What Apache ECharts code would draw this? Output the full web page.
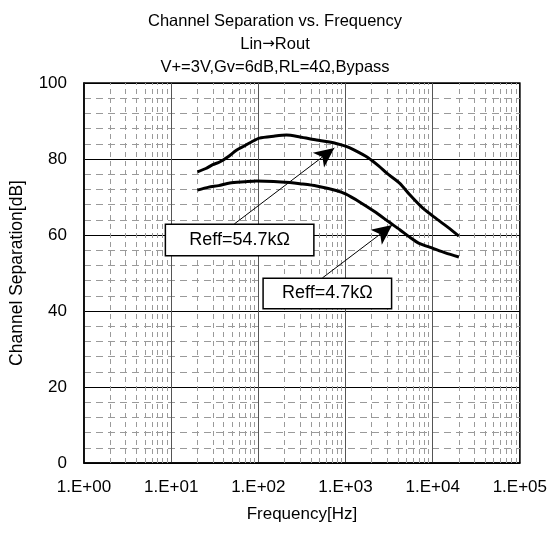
<!DOCTYPE html>
<html><head><meta charset="utf-8">
<script src="https://cdn.jsdelivr.net/npm/echarts@6/dist/echarts.min.js"></script>
<style>html,body{margin:0;padding:0;background:#fff}#c{width:550px;height:534px}</style>
</head><body><div id="c"></div>
<script>
// ---- data ----
const titleLines = ['Channel Separation vs. Frequency', 'Lin\u2192Rout', 'V+=3V,Gv=6dB,RL=4\u03A9,Bypass'];
const xTickLabels = ['1.E+00', '1.E+01', '1.E+02', '1.E+03', '1.E+04', '1.E+05'];
const yTickValues = [0, 20, 40, 60, 80, 100];
const seriesNames = ['Reff=54.7k\u03A9', 'Reff=4.7k\u03A9'];
const freqHigh = [20, 25, 30, 36, 45, 56, 70, 85, 103, 150, 210, 300, 465, 600, 780, 1000, 1250, 1800, 2400, 3000, 4200, 5500, 7600, 11000, 15000, 20000];
const sepHigh  = [76.6, 77.5, 78.5, 79.2, 80.6, 82.3, 83.5, 84.6, 85.5, 86.0, 86.3, 85.8, 85.0, 84.6, 84.1, 83.4, 82.4, 80.4, 78.2, 76.2, 73.6, 70.5, 67.2, 64.3, 62.0, 59.7];
const freqLow  = [20, 27, 35, 47, 70, 95, 150, 230, 300, 465, 780, 1000, 1450, 2240, 3160, 4200, 5400, 7000, 9800, 14000, 20000];
const sepLow   = [71.8, 72.6, 73.0, 73.7, 74.0, 74.2, 74.1, 73.8, 73.5, 72.9, 71.7, 70.8, 68.7, 65.9, 63.4, 61.4, 59.5, 57.8, 56.6, 55.3, 54.2];
// annotation anchors in data units [freq, dB]
const arrowHigh = [[53, 62.9], [745, 82.9]];
const arrowLow  = [[543, 48.7], [3430, 62.6]];
const boxHigh   = [61, 58.7];
const boxLow    = [619, 44.6];

const FONT = 'Liberation Sans, Arial, sans-serif';
const minorX = [];
for (let k = 0; k < 5; k++) for (let m = 2; m <= 9; m++) minorX.push({ xAxis: m * Math.pow(10, k) });

function boxLabel(text, w, h) {
  return { show: true, position: 'inside', color: '#000', fontFamily: FONT, fontSize: 18,
    formatter: text, backgroundColor: '#fff', borderColor: '#000', borderWidth: 1.5,
    width: w, height: h, lineHeight: h, align: 'center', verticalAlign: 'middle' };
}

const chart = echarts.init(document.getElementById('c'));
chart.setOption({
  animation: false,
  backgroundColor: '#fff',
  textStyle: { fontFamily: FONT, color: '#000' },
  title: {
    text: titleLines.join('\n').replace('\u2192', '{a|\u2192}'), left: 'center', top: 5,
    textStyle: { fontFamily: FONT, fontSize: 16.5, fontWeight: 'normal', color: '#000', lineHeight: 23,
      rich: { a: { fontFamily: 'DejaVu Sans', fontSize: 15, color: '#000', lineHeight: 23 } } }
  },
  grid: { left: 84, right: 29, top: 83, bottom: 71, show: true, borderColor: '#000', borderWidth: 1.5, backgroundColor: 'transparent' },
  xAxis: {
    type: 'log', logBase: 10, min: 1, max: 100000,
    name: 'Frequency[Hz]', nameLocation: 'middle', nameGap: 43,
    nameTextStyle: { fontFamily: FONT, fontSize: 17, color: '#000' },
    axisLine: { show: true, lineStyle: { color: '#000', width: 1.5 } },
    axisTick: { show: false },
    axisLabel: { fontFamily: FONT, fontSize: 17, color: '#000', margin: 16,
      formatter: v => xTickLabels[Math.round(Math.log10(v))] },
    splitLine: { show: true, lineStyle: { color: '#555', width: 1 } }
  },
  yAxis: {
    type: 'value', min: 0, max: 100, interval: 20,
    name: 'Channel Separation[dB]', nameLocation: 'middle', nameGap: 58,
    nameTextStyle: { fontFamily: FONT, fontSize: 17.5, color: '#000' },
    axisLine: { show: true, lineStyle: { color: '#000', width: 1.5 } },
    axisTick: { show: false },
    axisLabel: { fontFamily: FONT, fontSize: 17, color: '#000', margin: 17,
      formatter: v => yTickValues.includes(v) ? String(v) : '' },
    splitLine: { show: true, lineStyle: { color: '#000', width: 1 } },
    minorTick: { show: false, splitNumber: 5 },
    minorSplitLine: { show: true, lineStyle: { color: '#9a9a9a', width: 1, type: [7, 5] } }
  },
  series: [
    {
      type: 'line', data: [], silent: true, z: 1,
      markLine: { silent: true, symbol: 'none', label: { show: false }, animation: false,
        lineStyle: { color: '#9a9a9a', width: 1, type: [5, 4] }, data: minorX }
    },
    {
      name: seriesNames[0], type: 'line', showSymbol: false, smooth: 0.25, z: 5,
      lineStyle: { color: '#000', width: 3 },
      data: freqHigh.map((f, i) => [f, sepHigh[i]]),
      markLine: { silent: true, symbol: ['none', 'arrow'], symbolSize: [14, 20], label: { show: false },
        lineStyle: { color: '#000', width: 1, type: 'solid' },
        data: [[{ coord: arrowHigh[0] }, { coord: arrowHigh[1] }]] },
      markPoint: { silent: true, symbol: 'rect', symbolSize: 0,
        label: boxLabel(seriesNames[0], 147, 30),
        data: [{ coord: boxHigh }] }
    },
    {
      name: seriesNames[1], type: 'line', showSymbol: false, smooth: 0.25, z: 5,
      lineStyle: { color: '#000', width: 3 },
      data: freqLow.map((f, i) => [f, sepLow[i]]),
      markLine: { silent: true, symbol: ['none', 'arrow'], symbolSize: [14, 20], label: { show: false },
        lineStyle: { color: '#000', width: 1, type: 'solid' },
        data: [[{ coord: arrowLow[0] }, { coord: arrowLow[1] }]] },
      markPoint: { silent: true, symbol: 'rect', symbolSize: 0,
        label: boxLabel(seriesNames[1], 127, 29),
        data: [{ coord: boxLow }] }
    }
  ]
});
</script></body></html>
